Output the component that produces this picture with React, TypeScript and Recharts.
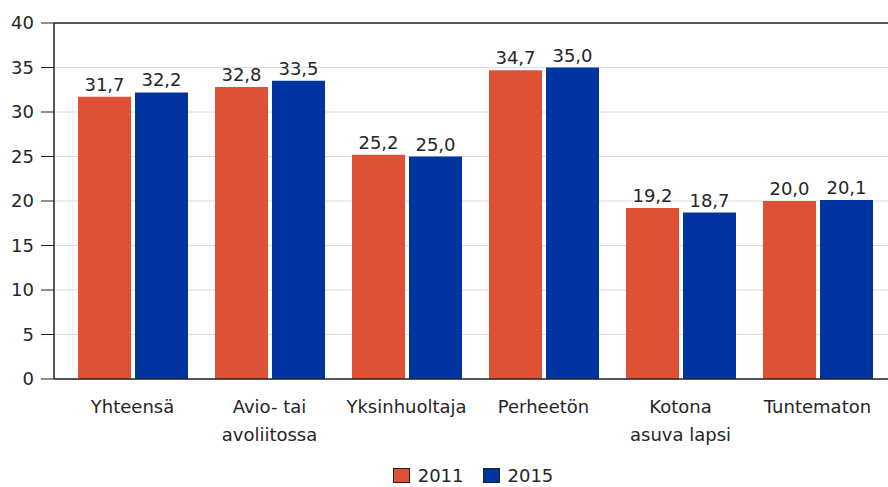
import { BarChart, Bar, XAxis, YAxis, CartesianGrid, Legend, LabelList, ReferenceLine } from 'recharts';

const categories = ['Yhteensä', 'Avio- tai\navoliitossa', 'Yksinhuoltaja', 'Perheetön', 'Kotona\nasuva lapsi', 'Tuntematon'];
const values2011 = [31.7, 32.8, 25.2, 34.7, 19.2, 20.0];
const values2015 = [32.2, 33.5, 25.0, 35.0, 18.7, 20.1];
const yTicks = [0, 5, 10, 15, 20, 25, 30, 35, 40];

const COLOR_2011 = '#dd5234';
const COLOR_2015 = '#0035a1';
const FONT = '"DejaVu Sans", Verdana, sans-serif';
const TEXT = '#262626';

const data = categories.map((name, i) => ({ name, y2011: values2011[i], y2015: values2015[i] }));

const fmt = (v: any) => Number(v).toFixed(1).replace('.', ',');

const CategoryTick = ({ x, y, payload }: any) => {
  const lines = String(payload.value).split('\n');
  return (
    <g>
      {lines.map((line, i) => (
        <text
          key={i}
          x={x}
          y={y + 34 + i * 28}
          textAnchor="middle"
          fill={TEXT}
          fontSize={18}
          fontFamily={FONT}
        >
          {line}
        </text>
      ))}
    </g>
  );
};

const LegendContent = () => (
  <div
    style={{
      height: 30,
      display: 'flex',
      justifyContent: 'center',
      alignItems: 'center',
      paddingTop: 6,
      boxSizing: 'border-box',
      fontFamily: FONT,
      fontSize: 18,
      color: TEXT,
      marginLeft: 58,
    }}
  >
    {[
      { label: '2011', color: COLOR_2011 },
      { label: '2015', color: COLOR_2015 },
    ].map((item, i) => (
      <div key={item.label} style={{ display: 'flex', alignItems: 'center', marginLeft: i ? 19 : 0 }}>
        <span
          style={{
            display: 'inline-block',
            width: 15,
            height: 13,
            background: item.color,
            border: '1px solid #222',
            marginRight: 8,
          }}
        />
        <span>{item.label}</span>
      </div>
    ))}
  </div>
);

export default function App() {
  return (
    <div style={{ position: 'absolute', left: 0, top: 0, width: 888, height: 487, background: '#fff' }}>
      <BarChart
        width={888}
        height={487}
        data={data}
        margin={{ top: 23, right: 0, left: 0, bottom: 0 }}
        barGap={4}
      >
        <CartesianGrid vertical={false} stroke="#dcdcdc" />
        <XAxis
          dataKey="name"
          interval={0}
          height={78}
          tick={<CategoryTick />}
          tickLine={false}
          tickSize={0}
          tickMargin={0}
          axisLine={false}
          padding={{ left: 10, right: 2 }}
        />
        <YAxis
          domain={[0, 40]}
          ticks={yTicks}
          width={54}
          tickSize={13}
          tickMargin={7}
          tick={{ fill: TEXT, fontSize: 18, fontFamily: FONT }}
          tickLine={{ stroke: '#222' }}
          axisLine={{ stroke: '#222', strokeWidth: 1.5 }}
        />
        <ReferenceLine y={40} stroke="#222" strokeWidth={1.5} />
        <ReferenceLine y={0} stroke="#222" strokeWidth={1.5} />
        <Legend verticalAlign="bottom" content={<LegendContent />} />
        <Bar dataKey="y2011" name="2011" fill={COLOR_2011} barSize={53} isAnimationActive={false}>
          <LabelList dataKey="y2011" position="top" offset={6} formatter={fmt} fill={TEXT} fontSize={18} fontFamily={FONT} />
        </Bar>
        <Bar dataKey="y2015" name="2015" fill={COLOR_2015} barSize={53} isAnimationActive={false}>
          <LabelList dataKey="y2015" position="top" offset={6} formatter={fmt} fill={TEXT} fontSize={18} fontFamily={FONT} />
        </Bar>
      </BarChart>
    </div>
  );
}
